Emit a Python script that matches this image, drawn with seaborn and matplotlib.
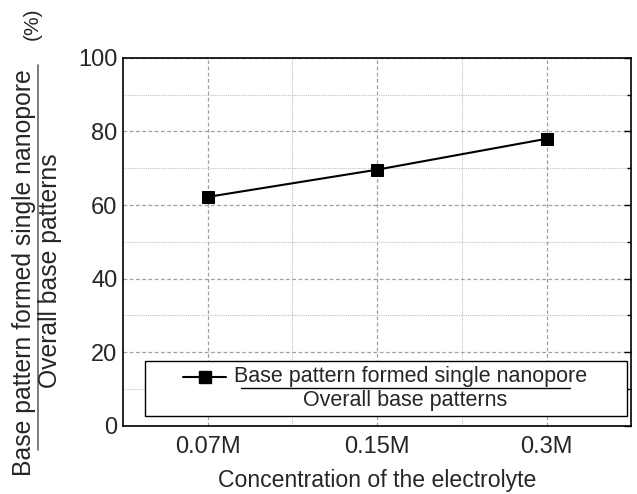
import numpy as np
import pandas as pd
import matplotlib
matplotlib.use("Agg")
import matplotlib.pyplot as plt
from matplotlib.lines import Line2D
from matplotlib.patches import Rectangle
from matplotlib.ticker import MultipleLocator, FixedLocator
import seaborn as sns

# data
concentrations = ["0.07M", "0.15M", "0.3M"]
ratio_pct = [62.2, 69.6, 78.0]
y_ticks = [0, 20, 40, 60, 80, 100]

numerator = "Base pattern formed single nanopore"
denominator = "Overall base patterns"


def main():
    sns.set_style("white")
    plt.rcParams["font.family"] = ["Liberation Sans", "DejaVu Sans"]
    plt.rcParams["xtick.direction"] = "in"
    plt.rcParams["ytick.direction"] = "in"

    df = pd.DataFrame({"conc": concentrations, "ratio": ratio_pct})

    fig = plt.figure(figsize=(6.37, 4.94), dpi=100)
    ax = fig.add_axes([0.193, 0.138, 0.798, 0.745])

    sns.lineplot(data=df, x="conc", y="ratio", ax=ax, color="black",
                 marker="s", markersize=9, markeredgecolor="black",
                 linewidth=1.5, sort=False, zorder=3)

    ax.set_xlim(-0.5, 2.5)
    ax.set_ylim(0, 100)
    ax.set_yticks(y_ticks)
    ax.yaxis.set_minor_locator(MultipleLocator(10))
    ax.xaxis.set_minor_locator(FixedLocator([0.5, 1.5]))

    ax.grid(which="major", color="#a0a0a0", linestyle=(0, (3, 2)), linewidth=0.9)
    ax.grid(which="minor", color="#c0c0c0", linestyle=(0, (1, 1)), linewidth=0.8)
    ax.set_axisbelow(True)

    for s in ax.spines.values():
        s.set_color("black")
        s.set_linewidth(1.2)

    ax.tick_params(axis="both", which="major", labelsize=17, length=5,
                   width=1, color="black", pad=4)
    ax.tick_params(axis="y", which="both", right=True)
    ax.tick_params(axis="both", which="minor", length=3, width=1, color="black")
    ax.tick_params(axis="x", which="both", top=False, pad=7)

    ax.set_xlabel("Concentration of the electrolyte", fontsize=16.6, labelpad=8)
    ax.set_ylabel("")

    # y label written as a fraction
    fig.text(0.037, 0.449, numerator, rotation=90, ha="center", va="center",
             fontsize=17.8)
    fig.text(0.079, 0.453, denominator, rotation=90, ha="center", va="center",
             fontsize=17.8)
    fig.add_artist(Line2D([0.060, 0.060], [0.089, 0.868], color="#666666",
                          linewidth=1.2, transform=fig.transFigure))
    fig.text(0.050, 0.951, "(%)", rotation=90, ha="center", va="center",
             fontsize=15)

    # legend box drawn by hand so the label can be a fraction
    ax.add_patch(Rectangle((0.043, 0.027), 0.949, 0.150, transform=ax.transAxes,
                           facecolor="white", edgecolor="black",
                           linewidth=1.0, zorder=4))
    ax.add_line(Line2D([0.118, 0.1605, 0.203], [0.133, 0.133, 0.133],
                       transform=ax.transAxes, color="black", linewidth=1.5,
                       marker="s", markersize=8, markevery=[1], zorder=5))
    ax.text(0.565, 0.133, numerator, transform=ax.transAxes, ha="center",
            va="center", fontsize=15.5, zorder=5)
    ax.add_line(Line2D([0.232, 0.880], [0.103, 0.103], transform=ax.transAxes,
                       color="black", linewidth=1.0, zorder=5))
    ax.text(0.555, 0.068, denominator, transform=ax.transAxes, ha="center",
            va="center", fontsize=15.5, zorder=5)

    fig.savefig("out.png", dpi=100)


if __name__ == "__main__":
    main()
